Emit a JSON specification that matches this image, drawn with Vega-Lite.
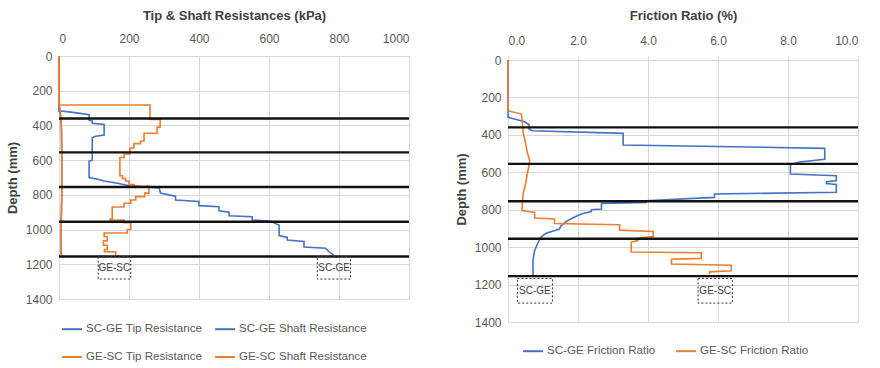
{
  "$schema": "https://vega.github.io/schema/vega-lite/v6.json",
  "background": "white",
  "padding": {"left": 6, "top": 9, "right": 5, "bottom": 4},
  "config": {
    "font": "Liberation Sans",
    "view": {"stroke": null},
    "axis": {
      "labelColor": "#595959", "labelFontSize": 12, "titleColor": "#404040",
      "titleFontSize": 13, "titleFontWeight": "bold", "gridColor": "#d9d9d9",
      "domain": false, "ticks": false, "labelPadding": 7, "labelOverlap": false, "format": "d"
    },
    "legend": {
      "labelColor": "#595959", "labelFontSize": 11.6, "symbolType": "stroke",
      "symbolStrokeWidth": 2, "symbolSize": 400, "title": null, "labelOffset": 3,
      "columnPadding": 8, "rowPadding": 11
    }
  },
  "datasets": {
    "res": [
      {"s": "SC-GE Shaft Resistance", "d": 0, "v": 0},
      {"s": "SC-GE Shaft Resistance", "d": 315, "v": 0},
      {"s": "SC-GE Shaft Resistance", "d": 330, "v": 3},
      {"s": "SC-GE Shaft Resistance", "d": 360, "v": 5},
      {"s": "SC-GE Shaft Resistance", "d": 420, "v": 7},
      {"s": "SC-GE Shaft Resistance", "d": 600, "v": 8},
      {"s": "SC-GE Shaft Resistance", "d": 800, "v": 8},
      {"s": "SC-GE Shaft Resistance", "d": 1000, "v": 6},
      {"s": "SC-GE Shaft Resistance", "d": 1130, "v": 5},
      {"s": "SC-GE Shaft Resistance", "d": 1150, "v": 7},
      {"s": "SC-GE Tip Resistance", "d": 0, "v": 0},
      {"s": "SC-GE Tip Resistance", "d": 315, "v": 0},
      {"s": "SC-GE Tip Resistance", "d": 325, "v": 40},
      {"s": "SC-GE Tip Resistance", "d": 338, "v": 86},
      {"s": "SC-GE Tip Resistance", "d": 370, "v": 86},
      {"s": "SC-GE Tip Resistance", "d": 375, "v": 95},
      {"s": "SC-GE Tip Resistance", "d": 388, "v": 95},
      {"s": "SC-GE Tip Resistance", "d": 395, "v": 129},
      {"s": "SC-GE Tip Resistance", "d": 455, "v": 129},
      {"s": "SC-GE Tip Resistance", "d": 462, "v": 105},
      {"s": "SC-GE Tip Resistance", "d": 470, "v": 95},
      {"s": "SC-GE Tip Resistance", "d": 600, "v": 95},
      {"s": "SC-GE Tip Resistance", "d": 606, "v": 86},
      {"s": "SC-GE Tip Resistance", "d": 700, "v": 86},
      {"s": "SC-GE Tip Resistance", "d": 712, "v": 114},
      {"s": "SC-GE Tip Resistance", "d": 720, "v": 129},
      {"s": "SC-GE Tip Resistance", "d": 735, "v": 171},
      {"s": "SC-GE Tip Resistance", "d": 748, "v": 200},
      {"s": "SC-GE Tip Resistance", "d": 760, "v": 286},
      {"s": "SC-GE Tip Resistance", "d": 790, "v": 290},
      {"s": "SC-GE Tip Resistance", "d": 800, "v": 314},
      {"s": "SC-GE Tip Resistance", "d": 808, "v": 333},
      {"s": "SC-GE Tip Resistance", "d": 830, "v": 333},
      {"s": "SC-GE Tip Resistance", "d": 838, "v": 400},
      {"s": "SC-GE Tip Resistance", "d": 862, "v": 400},
      {"s": "SC-GE Tip Resistance", "d": 868, "v": 457},
      {"s": "SC-GE Tip Resistance", "d": 892, "v": 457},
      {"s": "SC-GE Tip Resistance", "d": 900, "v": 486},
      {"s": "SC-GE Tip Resistance", "d": 920, "v": 486},
      {"s": "SC-GE Tip Resistance", "d": 926, "v": 552},
      {"s": "SC-GE Tip Resistance", "d": 945, "v": 552},
      {"s": "SC-GE Tip Resistance", "d": 952, "v": 605},
      {"s": "SC-GE Tip Resistance", "d": 975, "v": 629},
      {"s": "SC-GE Tip Resistance", "d": 1035, "v": 629},
      {"s": "SC-GE Tip Resistance", "d": 1045, "v": 652},
      {"s": "SC-GE Tip Resistance", "d": 1060, "v": 652},
      {"s": "SC-GE Tip Resistance", "d": 1068, "v": 700},
      {"s": "SC-GE Tip Resistance", "d": 1100, "v": 700},
      {"s": "SC-GE Tip Resistance", "d": 1108, "v": 762},
      {"s": "SC-GE Tip Resistance", "d": 1125, "v": 770},
      {"s": "SC-GE Tip Resistance", "d": 1150, "v": 786},
      {"s": "GE-SC Tip Resistance", "d": 0, "v": 0},
      {"s": "GE-SC Tip Resistance", "d": 282, "v": 0},
      {"s": "GE-SC Tip Resistance", "d": 282, "v": 260},
      {"s": "GE-SC Tip Resistance", "d": 365, "v": 260},
      {"s": "GE-SC Tip Resistance", "d": 365, "v": 289},
      {"s": "GE-SC Tip Resistance", "d": 410, "v": 289},
      {"s": "GE-SC Tip Resistance", "d": 410, "v": 280},
      {"s": "GE-SC Tip Resistance", "d": 445, "v": 280},
      {"s": "GE-SC Tip Resistance", "d": 445, "v": 243},
      {"s": "GE-SC Tip Resistance", "d": 490, "v": 243},
      {"s": "GE-SC Tip Resistance", "d": 490, "v": 233},
      {"s": "GE-SC Tip Resistance", "d": 505, "v": 233},
      {"s": "GE-SC Tip Resistance", "d": 505, "v": 214},
      {"s": "GE-SC Tip Resistance", "d": 530, "v": 214},
      {"s": "GE-SC Tip Resistance", "d": 530, "v": 203},
      {"s": "GE-SC Tip Resistance", "d": 565, "v": 203},
      {"s": "GE-SC Tip Resistance", "d": 565, "v": 186},
      {"s": "GE-SC Tip Resistance", "d": 585, "v": 186},
      {"s": "GE-SC Tip Resistance", "d": 585, "v": 174},
      {"s": "GE-SC Tip Resistance", "d": 690, "v": 174},
      {"s": "GE-SC Tip Resistance", "d": 690, "v": 181},
      {"s": "GE-SC Tip Resistance", "d": 705, "v": 181},
      {"s": "GE-SC Tip Resistance", "d": 705, "v": 190},
      {"s": "GE-SC Tip Resistance", "d": 720, "v": 190},
      {"s": "GE-SC Tip Resistance", "d": 720, "v": 200},
      {"s": "GE-SC Tip Resistance", "d": 740, "v": 200},
      {"s": "GE-SC Tip Resistance", "d": 740, "v": 215},
      {"s": "GE-SC Tip Resistance", "d": 750, "v": 215},
      {"s": "GE-SC Tip Resistance", "d": 750, "v": 257},
      {"s": "GE-SC Tip Resistance", "d": 790, "v": 257},
      {"s": "GE-SC Tip Resistance", "d": 790, "v": 245},
      {"s": "GE-SC Tip Resistance", "d": 810, "v": 245},
      {"s": "GE-SC Tip Resistance", "d": 810, "v": 219},
      {"s": "GE-SC Tip Resistance", "d": 830, "v": 219},
      {"s": "GE-SC Tip Resistance", "d": 830, "v": 205},
      {"s": "GE-SC Tip Resistance", "d": 848, "v": 205},
      {"s": "GE-SC Tip Resistance", "d": 848, "v": 186},
      {"s": "GE-SC Tip Resistance", "d": 870, "v": 186},
      {"s": "GE-SC Tip Resistance", "d": 870, "v": 152},
      {"s": "GE-SC Tip Resistance", "d": 939, "v": 152},
      {"s": "GE-SC Tip Resistance", "d": 939, "v": 146},
      {"s": "GE-SC Tip Resistance", "d": 945, "v": 146},
      {"s": "GE-SC Tip Resistance", "d": 945, "v": 186},
      {"s": "GE-SC Tip Resistance", "d": 960, "v": 186},
      {"s": "GE-SC Tip Resistance", "d": 960, "v": 205},
      {"s": "GE-SC Tip Resistance", "d": 1000, "v": 205},
      {"s": "GE-SC Tip Resistance", "d": 1000, "v": 195},
      {"s": "GE-SC Tip Resistance", "d": 1020, "v": 195},
      {"s": "GE-SC Tip Resistance", "d": 1020, "v": 129},
      {"s": "GE-SC Tip Resistance", "d": 1040, "v": 129},
      {"s": "GE-SC Tip Resistance", "d": 1040, "v": 138},
      {"s": "GE-SC Tip Resistance", "d": 1065, "v": 138},
      {"s": "GE-SC Tip Resistance", "d": 1065, "v": 127},
      {"s": "GE-SC Tip Resistance", "d": 1090, "v": 127},
      {"s": "GE-SC Tip Resistance", "d": 1090, "v": 138},
      {"s": "GE-SC Tip Resistance", "d": 1115, "v": 138},
      {"s": "GE-SC Tip Resistance", "d": 1115, "v": 130},
      {"s": "GE-SC Tip Resistance", "d": 1128, "v": 130},
      {"s": "GE-SC Tip Resistance", "d": 1128, "v": 162},
      {"s": "GE-SC Tip Resistance", "d": 1150, "v": 162},
      {"s": "GE-SC Shaft Resistance", "d": 0, "v": 0},
      {"s": "GE-SC Shaft Resistance", "d": 285, "v": 0},
      {"s": "GE-SC Shaft Resistance", "d": 300, "v": 3},
      {"s": "GE-SC Shaft Resistance", "d": 360, "v": 5},
      {"s": "GE-SC Shaft Resistance", "d": 420, "v": 7},
      {"s": "GE-SC Shaft Resistance", "d": 600, "v": 8},
      {"s": "GE-SC Shaft Resistance", "d": 800, "v": 8},
      {"s": "GE-SC Shaft Resistance", "d": 1000, "v": 6},
      {"s": "GE-SC Shaft Resistance", "d": 1130, "v": 5},
      {"s": "GE-SC Shaft Resistance", "d": 1150, "v": 8}
    ],
    "fr": [
      {"s": "SC-GE Friction Ratio", "d": 0, "v": 0},
      {"s": "SC-GE Friction Ratio", "d": 306, "v": 0},
      {"s": "SC-GE Friction Ratio", "d": 330, "v": 0.47},
      {"s": "SC-GE Friction Ratio", "d": 345, "v": 0.6},
      {"s": "SC-GE Friction Ratio", "d": 369, "v": 0.6},
      {"s": "SC-GE Friction Ratio", "d": 378, "v": 0.7},
      {"s": "SC-GE Friction Ratio", "d": 392, "v": 3.29},
      {"s": "SC-GE Friction Ratio", "d": 454, "v": 3.29},
      {"s": "SC-GE Friction Ratio", "d": 472, "v": 9.05},
      {"s": "SC-GE Friction Ratio", "d": 530, "v": 9.05},
      {"s": "SC-GE Friction Ratio", "d": 545, "v": 8.33},
      {"s": "SC-GE Friction Ratio", "d": 560, "v": 8.07},
      {"s": "SC-GE Friction Ratio", "d": 609, "v": 8.07},
      {"s": "SC-GE Friction Ratio", "d": 618, "v": 9.38},
      {"s": "SC-GE Friction Ratio", "d": 645, "v": 9.38},
      {"s": "SC-GE Friction Ratio", "d": 650, "v": 9.1},
      {"s": "SC-GE Friction Ratio", "d": 660, "v": 9.1},
      {"s": "SC-GE Friction Ratio", "d": 665, "v": 9.38},
      {"s": "SC-GE Friction Ratio", "d": 707, "v": 9.38},
      {"s": "SC-GE Friction Ratio", "d": 716, "v": 5.9},
      {"s": "SC-GE Friction Ratio", "d": 734, "v": 5.9},
      {"s": "SC-GE Friction Ratio", "d": 752, "v": 3.95},
      {"s": "SC-GE Friction Ratio", "d": 761, "v": 3.95},
      {"s": "SC-GE Friction Ratio", "d": 766, "v": 2.67},
      {"s": "SC-GE Friction Ratio", "d": 796, "v": 2.67},
      {"s": "SC-GE Friction Ratio", "d": 800, "v": 2.38},
      {"s": "SC-GE Friction Ratio", "d": 810, "v": 2.38},
      {"s": "SC-GE Friction Ratio", "d": 820, "v": 2.14},
      {"s": "SC-GE Friction Ratio", "d": 832, "v": 1.98},
      {"s": "SC-GE Friction Ratio", "d": 844, "v": 1.85},
      {"s": "SC-GE Friction Ratio", "d": 862, "v": 1.67},
      {"s": "SC-GE Friction Ratio", "d": 885, "v": 1.52},
      {"s": "SC-GE Friction Ratio", "d": 903, "v": 1.47},
      {"s": "SC-GE Friction Ratio", "d": 926, "v": 1.09},
      {"s": "SC-GE Friction Ratio", "d": 948, "v": 0.93},
      {"s": "SC-GE Friction Ratio", "d": 983, "v": 0.84},
      {"s": "SC-GE Friction Ratio", "d": 1019, "v": 0.76},
      {"s": "SC-GE Friction Ratio", "d": 1073, "v": 0.71},
      {"s": "SC-GE Friction Ratio", "d": 1153, "v": 0.72},
      {"s": "GE-SC Friction Ratio", "d": 0, "v": 0},
      {"s": "GE-SC Friction Ratio", "d": 271, "v": 0},
      {"s": "GE-SC Friction Ratio", "d": 289, "v": 0.38},
      {"s": "GE-SC Friction Ratio", "d": 330, "v": 0.41},
      {"s": "GE-SC Friction Ratio", "d": 386, "v": 0.43},
      {"s": "GE-SC Friction Ratio", "d": 440, "v": 0.5},
      {"s": "GE-SC Friction Ratio", "d": 493, "v": 0.55},
      {"s": "GE-SC Friction Ratio", "d": 538, "v": 0.62},
      {"s": "GE-SC Friction Ratio", "d": 565, "v": 0.6},
      {"s": "GE-SC Friction Ratio", "d": 600, "v": 0.56},
      {"s": "GE-SC Friction Ratio", "d": 672, "v": 0.49},
      {"s": "GE-SC Friction Ratio", "d": 716, "v": 0.43},
      {"s": "GE-SC Friction Ratio", "d": 805, "v": 0.4},
      {"s": "GE-SC Friction Ratio", "d": 814, "v": 0.76},
      {"s": "GE-SC Friction Ratio", "d": 844, "v": 0.76},
      {"s": "GE-SC Friction Ratio", "d": 850, "v": 1.33},
      {"s": "GE-SC Friction Ratio", "d": 874, "v": 1.33},
      {"s": "GE-SC Friction Ratio", "d": 880, "v": 3.19},
      {"s": "GE-SC Friction Ratio", "d": 909, "v": 3.19},
      {"s": "GE-SC Friction Ratio", "d": 916, "v": 4.15},
      {"s": "GE-SC Friction Ratio", "d": 944, "v": 4.15},
      {"s": "GE-SC Friction Ratio", "d": 951, "v": 3.71},
      {"s": "GE-SC Friction Ratio", "d": 965, "v": 3.71},
      {"s": "GE-SC Friction Ratio", "d": 974, "v": 3.52},
      {"s": "GE-SC Friction Ratio", "d": 1026, "v": 3.52},
      {"s": "GE-SC Friction Ratio", "d": 1030, "v": 5.52},
      {"s": "GE-SC Friction Ratio", "d": 1060, "v": 5.52},
      {"s": "GE-SC Friction Ratio", "d": 1065, "v": 4.67},
      {"s": "GE-SC Friction Ratio", "d": 1090, "v": 4.67},
      {"s": "GE-SC Friction Ratio", "d": 1097, "v": 6.38},
      {"s": "GE-SC Friction Ratio", "d": 1126, "v": 6.38},
      {"s": "GE-SC Friction Ratio", "d": 1132, "v": 5.76},
      {"s": "GE-SC Friction Ratio", "d": 1144, "v": 5.76}
    ],
    "bounds": [{"d": 360}, {"d": 555}, {"d": 755}, {"d": 955}, {"d": 1155}],
    "boxL": [
      {"label": "GE-SC", "v": 112, "v2": 205, "vc": 158, "d": 1155, "d2": 1285, "dc": 1222},
      {"label": "SC-GE", "v": 738, "v2": 833, "vc": 786, "d": 1155, "d2": 1285, "dc": 1222}
    ],
    "boxR": [
      {"label": "SC-GE", "v": 0.27, "v2": 1.27, "vc": 0.77, "d": 1167, "d2": 1299, "dc": 1235},
      {"label": "GE-SC", "v": 5.43, "v2": 6.41, "vc": 5.92, "d": 1167, "d2": 1299, "dc": 1235}
    ]
  },
  "spacing": 44,
  "resolve": {"scale": {"color": "independent"}},
  "hconcat": [
    {
      "width": 350,
      "height": 243,
      "encoding": {
        "x": {"field": "v", "type": "quantitative", "scale": {"domain": [0, 1000], "nice": false},
              "axis": {"orient": "top", "values": [0, 200, 400, 600, 800, 1000], "title": "Tip & Shaft Resistances (kPa)", "titlePadding": 10, "labelPadding": 11, "labelOverlap": false}},
        "y": {"field": "d", "type": "quantitative", "scale": {"domain": [0, 1400], "reverse": true, "nice": false},
              "axis": {"values": [0, 200, 400, 600, 800, 1000, 1200, 1400], "title": "Depth (mm)", "titlePadding": 6, "labelOverlap": false}}
      },
      "layer": [
        {
          "data": {"name": "res"},
          "mark": {"type": "line", "strokeWidth": 1.6},
          "encoding": {
            "color": {"field": "s", "type": "nominal",
                      "scale": {"domain": ["SC-GE Tip Resistance", "SC-GE Shaft Resistance", "GE-SC Tip Resistance", "GE-SC Shaft Resistance"],
                                "range": ["#4472C4", "#4472C4", "#ED7D31", "#ED7D31"]},
                      "legend": {"orient": "bottom", "columns": 2, "offset": 17, "padding": 2}},
            "order": {"value": null}
          }
        },
        {
          "data": {"name": "bounds"},
          "mark": {"type": "rule", "color": "#111111", "strokeWidth": 2.4},
          "encoding": {"x": {"value": 0}, "x2": {"value": "width"}}
        },
        {
          "data": {"name": "boxL"},
          "mark": {"type": "rect", "filled": false, "stroke": "#333333", "strokeDash": [2, 2], "strokeWidth": 1},
          "encoding": {"x2": {"field": "v2"}, "y2": {"field": "d2"}}
        },
        {
          "data": {"name": "boxL"},
          "mark": {"type": "text", "fontSize": 10, "color": "#404040"},
          "encoding": {
            "x": {"field": "vc", "type": "quantitative"},
            "y": {"field": "dc", "type": "quantitative"},
            "text": {"field": "label"}
          }
        }
      ]
    },
    {
      "width": 350,
      "height": 266,
      "encoding": {
        "x": {"field": "v", "type": "quantitative", "scale": {"domain": [0, 10], "nice": false},
              "axis": {"orient": "top", "values": [0, 2, 4, 6, 8, 10], "format": ".1f", "title": "Friction Ratio (%)", "titlePadding": 12, "labelPadding": 9, "labelOverlap": false}},
        "y": {"field": "d", "type": "quantitative", "scale": {"domain": [-21.4, 1400], "reverse": true, "nice": false, "zero": false},
              "axis": {"values": [0, 200, 400, 600, 800, 1000, 1200, 1400], "title": "Depth (mm)", "titlePadding": 6, "labelOverlap": false}}
      },
      "layer": [
        {
          "data": {"name": "fr"},
          "mark": {"type": "line", "strokeWidth": 1.6},
          "encoding": {
            "color": {"field": "s", "type": "nominal",
                      "scale": {"domain": ["SC-GE Friction Ratio", "GE-SC Friction Ratio"], "range": ["#4472C4", "#ED7D31"]},
                      "legend": {"orient": "bottom", "direction": "horizontal", "offset": 4, "padding": 14, "columnPadding": 16}},
            "order": {"value": null}
          }
        },
        {
          "data": {"name": "bounds"},
          "mark": {"type": "rule", "color": "#111111", "strokeWidth": 2.4},
          "encoding": {"x": {"value": 0}, "x2": {"value": "width"}}
        },
        {
          "data": {"name": "boxR"},
          "mark": {"type": "rect", "filled": false, "stroke": "#333333", "strokeDash": [2, 2], "strokeWidth": 1},
          "encoding": {"x2": {"field": "v2"}, "y2": {"field": "d2"}}
        },
        {
          "data": {"name": "boxR"},
          "mark": {"type": "text", "fontSize": 10, "color": "#404040"},
          "encoding": {
            "x": {"field": "vc", "type": "quantitative"},
            "y": {"field": "dc", "type": "quantitative"},
            "text": {"field": "label"}
          }
        }
      ]
    }
  ]
}
